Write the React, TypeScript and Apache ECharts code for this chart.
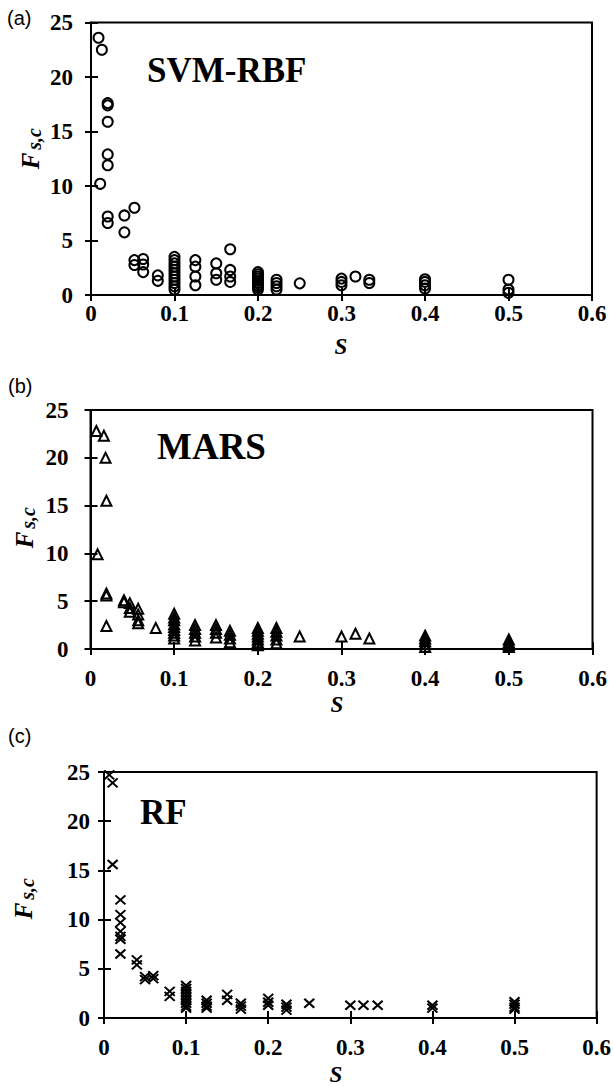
import React, { useEffect, useRef } from "react";
import * as echarts from "echarts";

// ---- Data (S, F_s,c) ----
const svmS = [
  0.009, 0.013, 0.011,
  0.02, 0.02, 0.02, 0.02, 0.02, 0.02, 0.02,
  0.04, 0.04,
  0.052, 0.052, 0.052,
  0.0625, 0.0625, 0.0625,
  0.08, 0.08,
  0.1, 0.1, 0.1, 0.1, 0.1, 0.1, 0.1, 0.1, 0.1, 0.1, 0.1,
  0.125, 0.125, 0.125, 0.125,
  0.15, 0.15, 0.15,
  0.1667, 0.1667, 0.1667, 0.1667,
  0.2, 0.2, 0.2, 0.2, 0.2, 0.2, 0.2, 0.2, 0.2,
  0.2222, 0.2222, 0.2222, 0.2222,
  0.25,
  0.3, 0.3, 0.3,
  0.3167,
  0.3333, 0.3333,
  0.4, 0.4, 0.4, 0.4,
  0.5, 0.5, 0.5,
];
const svmF = [
  23.6, 22.5, 10.2,
  17.6, 17.4, 15.9, 12.9, 11.9, 7.2, 6.6,
  7.3, 5.75,
  8.0, 3.2, 2.75,
  3.3, 2.8, 2.1,
  1.8, 1.3,
  3.5, 3.2, 2.9, 2.6, 2.3, 2.0, 1.7, 1.4, 1.1, 0.8, 0.5,
  3.2, 2.6, 1.7, 0.9,
  2.9, 2.0, 1.4,
  4.2, 2.3, 1.7, 1.2,
  2.1, 1.9, 1.7, 1.5, 1.3, 1.1, 0.9, 0.7, 0.5,
  1.4, 1.1, 0.8, 0.5,
  1.07,
  1.5, 1.2, 0.9,
  1.7,
  1.4, 1.1,
  1.45, 1.2, 0.9, 0.6,
  1.4, 0.5, 0.2,
];

const marsS = [
  0.007, 0.016, 0.018, 0.019, 0.0085, 0.019, 0.019, 0.019,
  0.04, 0.04,
  0.047, 0.047, 0.047,
  0.057, 0.057, 0.057, 0.057,
  0.078,
  0.1, 0.1, 0.1, 0.1, 0.1, 0.1, 0.1, 0.1, 0.1,
  0.125, 0.125, 0.125, 0.125, 0.125,
  0.15, 0.15, 0.15, 0.15,
  0.1667, 0.1667, 0.1667, 0.1667,
  0.2, 0.2, 0.2, 0.2, 0.2, 0.2, 0.2,
  0.2222, 0.2222, 0.2222, 0.2222, 0.2222,
  0.25,
  0.3,
  0.3167,
  0.3333,
  0.4, 0.4, 0.4, 0.4, 0.4,
  0.5, 0.5, 0.5, 0.5,
];
const marsF = [
  22.8, 22.3, 20.0, 15.5, 9.9, 5.8, 5.6, 2.4,
  5.1, 4.9,
  4.8, 4.3, 3.9,
  4.2, 3.6, 3.0, 2.7,
  2.2,
  3.7, 3.3, 3.0, 2.6, 2.3, 2.0, 1.7, 1.4, 1.1,
  2.5, 2.1, 1.7, 1.3, 0.9,
  2.5, 2.1, 1.7, 1.2,
  1.9, 1.5, 1.1, 0.7,
  2.2, 1.9, 1.6, 1.3, 1.0, 0.7, 0.4,
  2.2, 1.8, 1.4, 1.0, 0.6,
  1.3,
  1.3,
  1.6,
  1.1,
  1.4, 1.1, 0.8, 0.5, 0.2,
  1.0, 0.7, 0.4, 0.2,
];

const rfS = [
  0.0064, 0.0105, 0.0105,
  0.02, 0.02, 0.02, 0.02, 0.02, 0.02, 0.02,
  0.04, 0.04,
  0.05, 0.05,
  0.06, 0.06,
  0.08, 0.08,
  0.1, 0.1, 0.1, 0.1, 0.1, 0.1, 0.1, 0.1, 0.1,
  0.125, 0.125, 0.125, 0.125,
  0.15, 0.15,
  0.1667, 0.1667, 0.1667,
  0.2, 0.2, 0.2,
  0.2222, 0.2222, 0.2222,
  0.25,
  0.3, 0.316, 0.3333,
  0.4, 0.4,
  0.5, 0.5, 0.5, 0.5,
];
const rfF = [
  24.7, 23.9, 15.6,
  12.0, 10.5, 9.7, 8.8, 8.3, 8.0, 6.5,
  5.9, 5.4,
  4.2, 3.9,
  4.3, 4.0,
  2.7, 2.2,
  3.3, 3.0, 2.7, 2.4, 2.1, 1.8, 1.5, 1.2, 1.0,
  1.8, 1.5, 1.2, 1.0,
  2.4, 1.8,
  1.5, 1.2, 0.9,
  2.0, 1.6, 1.3,
  1.4, 1.1, 0.8,
  1.5,
  1.3, 1.3, 1.3,
  1.3, 1.0,
  1.65, 1.4, 1.1, 0.9,
];

const panelTags = ["(a)", "(b)", "(c)"];
const modelNames = ["SVM-RBF", "MARS", "RF"];
const xTicks = { min: 0, max: 0.6, interval: 0.1 };
const yTicks = { min: 0, max: 25, interval: 5 };

// ---- Layout ----
const SERIF = "Liberation Serif";
const SANS = "Liberation Sans";

const grids = [
  { left: 91, top: 22.5, width: 501, height: 272.5, xMargin: 7, yMargin: 18 },
  { left: 90.5, top: 410, width: 502, height: 239, xMargin: 18, yMargin: 22 },
  { left: 104, top: 772, width: 495, height: 246, xMargin: 18, yMargin: 14 },
];

const tagPos = [
  { x: 7, y: 18 },
  { x: 8, y: 386 },
  { x: 8, y: 736 },
];
const namePos = [
  { x: 147, y: 70, size: 35 },
  { x: 157, y: 446, size: 37 },
  { x: 140, y: 812, size: 35 },
];
const sPos = [
  { x: 341, y: 346 },
  { x: 337, y: 704 },
  { x: 336, y: 1074 },
];
const fPos = [
  { fx: 30, fy: 161, sx: 34, sy: 139 },
  { fx: 24, fy: 540, sx: 28, sy: 518 },
  { fx: 23, fy: 911, sx: 27, sy: 889 },
];

const fmtX = (v: number) => (Math.abs(v) < 1e-9 ? "0" : (Math.round(v * 10) / 10).toFixed(1));
const fmtY = (v: number) => String(Math.round(v));

function buildAxes(gi: number, isX: boolean, margin: number) {
  const range = isX ? xTicks : yTicks;
  const lineStyle = { color: "#000", width: 2 };
  const main: any = {
    gridIndex: gi,
    type: "value",
    min: range.min,
    max: range.max,
    interval: range.interval,
    position: isX ? "bottom" : "left",
    axisLine: { show: true, onZero: false, lineStyle },
    axisTick: { show: true, inside: false, length: 6, lineStyle },
    splitLine: { show: false },
    axisLabel: {
      margin,
      color: "#000",
      fontFamily: SERIF,
      fontWeight: "bold",
      fontSize: 23,
      formatter: isX ? fmtX : fmtY,
    },
  };
  const dup: any = {
    gridIndex: gi,
    type: "value",
    min: range.min,
    max: range.max,
    interval: range.interval,
    position: isX ? "bottom" : "left",
    axisLine: { show: false, onZero: false },
    axisTick: { show: true, inside: true, length: 7, lineStyle },
    splitLine: { show: false },
    axisLabel: { show: false },
  };
  return [main, dup];
}

const symbols = ["circle", "triangle", "path://M0 0L10 10M10 0L0 10"];
const symbolSizes: any[] = [10, 10, [10, 9]];

export default function App() {
  const ref = useRef<HTMLDivElement>(null);

  useEffect(() => {
    if (!ref.current) return;
    const chart = echarts.init(ref.current, undefined, { renderer: "svg" });

    const xAxis: any[] = [];
    const yAxis: any[] = [];
    grids.forEach((g, i) => {
      xAxis.push(...buildAxes(i, true, g.xMargin));
      yAxis.push(...buildAxes(i, false, g.yMargin));
    });

    const dataSets = [
      svmS.map((s, i) => [s, svmF[i]]),
      marsS.map((s, i) => [s, marsF[i]]),
      rfS.map((s, i) => [s, rfF[i]]),
    ];

    const series = dataSets.map((d, i) => ({
      type: "scatter",
      xAxisIndex: i * 2,
      yAxisIndex: i * 2,
      data: d,
      symbol: symbols[i],
      symbolSize: symbolSizes[i],
      clip: false,
      itemStyle: {
        color: "rgba(255,255,255,0)",
        borderColor: "#000",
        borderWidth: 2,
        opacity: 1,
      },
      emphasis: { disabled: true },
    }));

    const graphic: any[] = [];
    panelTags.forEach((t, i) => {
      graphic.push({
        type: "text",
        x: tagPos[i].x,
        y: tagPos[i].y,
        style: {
          text: t,
          fontFamily: SANS,
          fontSize: 20,
          fill: "#000",
          verticalAlign: "middle",
          align: "left",
        },
      });
      graphic.push({
        type: "text",
        x: namePos[i].x,
        y: namePos[i].y,
        style: {
          text: modelNames[i],
          fontFamily: SERIF,
          fontWeight: "bold",
          fontSize: namePos[i].size,
          fill: "#000",
          verticalAlign: "middle",
          align: "left",
        },
      });
      graphic.push({
        type: "text",
        x: sPos[i].x,
        y: sPos[i].y,
        style: {
          text: "S",
          fontFamily: SERIF,
          fontWeight: "bold",
          fontStyle: "italic",
          fontSize: 23,
          fill: "#000",
          verticalAlign: "middle",
          align: "center",
        },
      });
      graphic.push({
        type: "text",
        x: fPos[i].fx,
        y: fPos[i].fy,
        rotation: Math.PI / 2,
        style: {
          text: "F",
          fontFamily: SERIF,
          fontWeight: "bold",
          fontStyle: "italic",
          fontSize: 25,
          fill: "#000",
          verticalAlign: "middle",
          align: "center",
        },
      });
      graphic.push({
        type: "text",
        x: fPos[i].sx,
        y: fPos[i].sy,
        rotation: Math.PI / 2,
        style: {
          text: "s,c",
          fontFamily: SERIF,
          fontWeight: "bold",
          fontStyle: "italic",
          fontSize: 20,
          fill: "#000",
          verticalAlign: "middle",
          align: "center",
        },
      });
    });

    chart.setOption({
      animation: false,
      backgroundColor: "#fff",
      grid: grids.map((g) => ({
        left: g.left,
        top: g.top,
        width: g.width,
        height: g.height,
        show: true,
        borderColor: "#000",
        borderWidth: 2,
        backgroundColor: "transparent",
        containLabel: false,
      })),
      xAxis,
      yAxis,
      series,
      graphic,
    });

    return () => chart.dispose();
  }, []);

  return (
    <div
      ref={ref}
      style={{ position: "absolute", left: 0, top: 0, width: 614, height: 1086 }}
    />
  );
}
